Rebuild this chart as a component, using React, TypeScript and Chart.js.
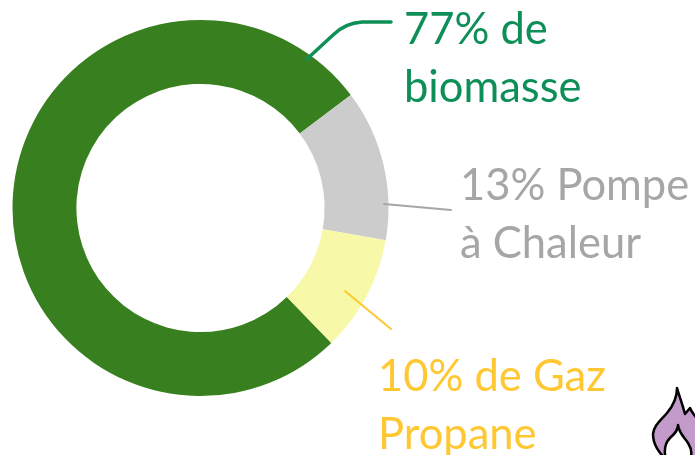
import React, { useEffect, useRef } from "react";
import { Chart, registerables } from "chart.js";

Chart.register(...registerables);

const categories = ["Biomasse", "Pompe à Chaleur", "Gaz Propane"];
const shares = [77, 13, 10];
const sliceColors = ["#38801f", "#cccccc", "#f7f8a8"];
const labelLines = [
  ["77% de", "biomasse"],
  ["13% Pompe", "à Chaleur"],
  ["10% de Gaz", "Propane"],
];
const labelColors = ["#0f8f58", "#a6a6a6", "#ffc832"];
const labelAnchors = [
  [404, 44],
  [460, 200],
  [378, 391],
];
const LINE_GAP = 57.5;

const calloutsPlugin = {
  id: "callouts",
  afterDraw(chart: any) {
    const ctx = chart.ctx as CanvasRenderingContext2D;
    ctx.save();
    ctx.lineCap = "round";

    ctx.strokeStyle = labelColors[0];
    ctx.lineWidth = 3.5;
    ctx.beginPath();
    ctx.moveTo(307, 59);
    ctx.lineTo(333, 35);
    ctx.quadraticCurveTo(345, 23, 362, 22);
    ctx.lineTo(391, 22);
    ctx.stroke();

    ctx.strokeStyle = "#a6a6a6";
    ctx.lineWidth = 2;
    ctx.beginPath();
    ctx.moveTo(384, 204);
    ctx.lineTo(451, 210);
    ctx.stroke();

    ctx.strokeStyle = labelColors[2];
    ctx.lineWidth = 2;
    ctx.beginPath();
    ctx.moveTo(345, 291);
    ctx.lineTo(391, 329);
    ctx.stroke();

    ctx.font = '43.5px Lato, "Open Sans", sans-serif';
    ctx.textBaseline = "alphabetic";
    labelLines.forEach((lines, i) => {
      ctx.fillStyle = labelColors[i];
      lines.forEach((t, j) => {
        ctx.fillText(t, labelAnchors[i][0], labelAnchors[i][1] + j * LINE_GAP);
      });
    });

    // Flame icon, cut by the page's lower-right corner
    const outer = new Path2D(
      "M677 388 C680 398 683 406 685 414 L690 408 C692 413 696 417 699 421 L699 460 L666 460 C659 452 653 445 653 434 C654 425 661 420 667 413 C673 406 677 398 677 388 Z"
    );
    ctx.fillStyle = "#c39bcb";
    ctx.fill(outer);
    ctx.strokeStyle = "#000000";
    ctx.lineWidth = 2.5;
    ctx.lineJoin = "round";
    ctx.stroke(outer);
    const inner = new Path2D(
      "M678 425 C679 433 684 437 688 443 C692 449 692 455 690 460 L666 460 C664 452 664 444 670 438 C674 434 678 431 678 425 Z"
    );
    ctx.fillStyle = "#ffffff";
    ctx.fill(inner);
    ctx.stroke(inner);
    ctx.restore();
  },
};

export default function App() {
  const ref = useRef<HTMLCanvasElement>(null);
  useEffect(() => {
    const chart = new Chart(ref.current!, {
      type: "doughnut",
      data: {
        labels: categories,
        datasets: [
          { data: shares, backgroundColor: sliceColors, borderWidth: 0 },
        ],
      },
      options: {
        responsive: false,
        animation: false,
        rotation: 135.9,
        cutout: "66%",
        layout: { padding: { left: 12.5, top: 20, right: 306.5, bottom: 59 } },
        plugins: { legend: { display: false }, tooltip: { enabled: false } },
      },
      plugins: [calloutsPlugin],
    } as any);
    return () => chart.destroy();
  }, []);
  return (
    <canvas
      ref={ref}
      width={695}
      height={455}
      style={{ position: "fixed", left: 0, top: 0, display: "block", background: "#ffffff" }}
    />
  );
}
